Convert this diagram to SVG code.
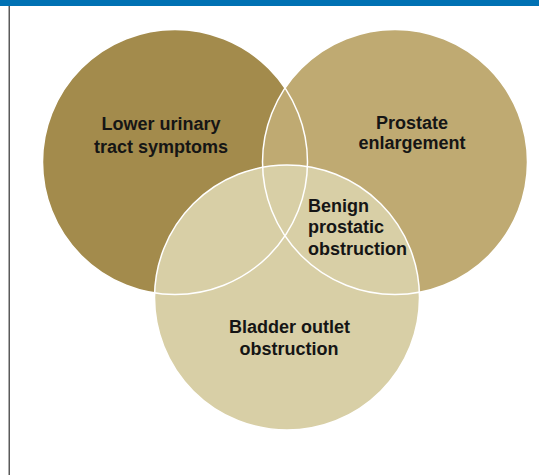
<svg xmlns="http://www.w3.org/2000/svg" width="539" height="475" viewBox="0 0 539 475">
  <style>
    .lbl { font-family: "Liberation Sans", Arial, sans-serif; font-weight: bold; font-size: 18px; fill: #151515; }
    .mid { text-anchor: middle; }
    .edge { fill: none; stroke: #ffffff; stroke-width: 1.5; }
  </style>
  <rect x="0" y="0" width="539" height="475" fill="#ffffff"/>
  <rect id="header" x="0" y="0" width="539" height="6" fill="#0071b3"/>
  <rect id="border-left" x="8.5" y="6" width="1.5" height="469" fill="#5a5a5a"/>

  <g id="circle-luts">
    <circle cx="175" cy="162" r="132.5" fill="#a38b4c"/>
  </g>
  <g id="circle-pe">
    <circle cx="395" cy="162" r="132.5" fill="#bfaa72"/>
  </g>
  <g id="circle-boo">
    <circle cx="287" cy="297.5" r="132.5" fill="#d8cfa6"/>
  </g>
  <g id="outlines">
    <circle class="edge" cx="175" cy="162" r="132.5"/>
    <circle class="edge" cx="395" cy="162" r="132.5"/>
    <circle class="edge" cx="287" cy="297.5" r="132.5"/>
  </g>

  <g id="label-luts">
    <text class="lbl mid" x="161" y="130">Lower urinary</text>
    <text class="lbl mid" x="161" y="152.5">tract symptoms</text>
  </g>
  <g id="label-pe">
    <text class="lbl mid" x="412" y="128.5">Prostate</text>
    <text class="lbl mid" x="412" y="148.5">enlargement</text>
  </g>
  <g id="label-bpo">
    <text class="lbl" x="308" y="211.5">Benign</text>
    <text class="lbl" x="308" y="233">prostatic</text>
    <text class="lbl" x="308" y="255">obstruction</text>
  </g>
  <g id="label-boo">
    <text class="lbl mid" x="289.5" y="333">Bladder outlet</text>
    <text class="lbl mid" x="289" y="355">obstruction</text>
  </g>
</svg>
